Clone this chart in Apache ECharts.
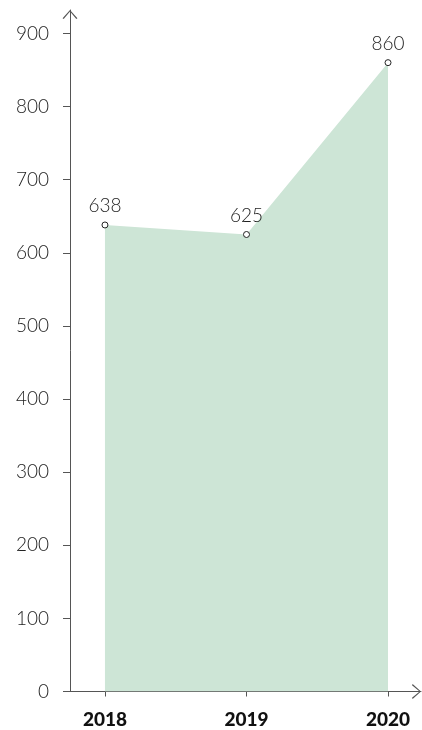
<!DOCTYPE html>
<html>
<head>
<meta charset="utf-8">
<script src="https://cdn.jsdelivr.net/npm/echarts@6/dist/echarts.min.js"></script>
<style>
  html, body { margin: 0; padding: 0; background: #fff; }
  #chart { width: 422px; height: 730px; }
</style>
</head>
<body>
<div id="chart"></div>
<script>
// data
const years = [2018, 2019, 2020];
const totals = [638, 625, 860];
const yTicks = [0, 100, 200, 300, 400, 500, 600, 700, 800, 900];

// thin open chevron used as axis arrow (points up, rotated by echarts)
const arrow = 'path://M0,9 L8,0 L16,9 L14.8,9.7 L8,1.5 L1.2,9.7 Z';
const axisColor = '#555';

let chart = echarts.init(document.getElementById('chart'));

let option = {
  animation: false,
  grid: {
    left: 70,
    right: 1,
    top: 10,
    bottom: 38.5
  },
  xAxis: {
    type: 'value',
    min: 2017.753,
    max: 2020.233,
    splitLine: { show: false },
    axisLine: {
      show: true,
      symbol: ['none', arrow],
      symbolSize: [16, 9],
      symbolOffset: [0, -4.5],
      lineStyle: { color: axisColor, width: 1 }
    },
    axisTick: {
      show: true,
      length: 5,
      customValues: years,
      lineStyle: { color: axisColor }
    },
    axisLabel: {
      customValues: years,
      formatter: v => String(v),
      margin: 19,
      color: '#111',
      fontFamily: 'Lato',
      fontWeight: 900,
      fontSize: 19
    }
  },
  yAxis: {
    type: 'value',
    min: 0,
    max: 932,
    splitLine: { show: false },
    axisLine: {
      show: true,
      symbol: ['none', arrow],
      symbolSize: [16, 9],
      symbolOffset: [0, -4.5],
      lineStyle: { color: axisColor, width: 1 }
    },
    axisTick: {
      show: true,
      length: 7,
      customValues: yTicks,
      lineStyle: { color: axisColor }
    },
    axisLabel: {
      customValues: yTicks,
      margin: 21,
      color: '#222',
      fontFamily: 'Lato',
      fontWeight: 300,
      fontSize: 19
    }
  },
  series: [
    {
      type: 'line',
      data: years.map((y, i) => [y, totals[i]]),
      symbol: 'circle',
      symbolSize: 6,
      itemStyle: {
        color: '#fff',
        borderColor: '#222',
        borderWidth: 1
      },
      lineStyle: { width: 0 },
      areaStyle: {
        color: '#cde5d6',
        opacity: 1
      },
      label: {
        show: true,
        position: 'top',
        distance: 6,
        color: '#222',
        fontFamily: 'Lato',
        fontWeight: 300,
        fontSize: 19
      },
      emphasis: { disabled: true }
    }
  ]
};

option && chart.setOption(option);
</script>
</body>
</html>
